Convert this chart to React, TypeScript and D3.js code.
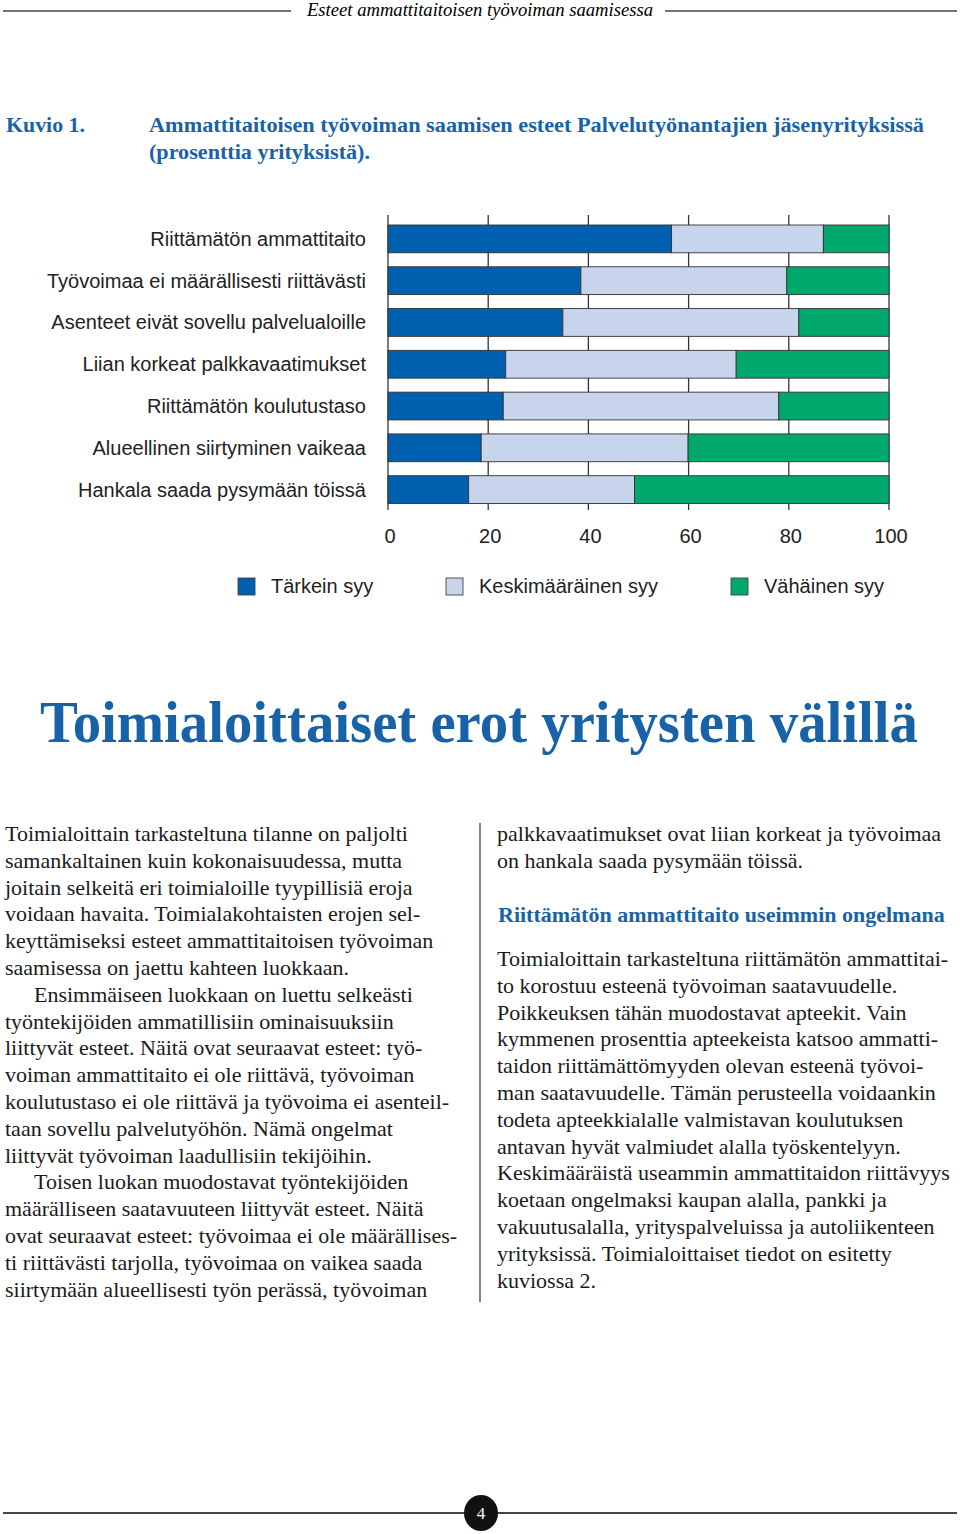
import React from "react";
import * as d3 from "d3";

const categories = [
  "Riittämätön ammattitaito",
  "Työvoimaa ei määrällisesti riittävästi",
  "Asenteet eivät sovellu palvelualoille",
  "Liian korkeat palkkavaatimukset",
  "Riittämätön koulutustaso",
  "Alueellinen siirtyminen vaikeaa",
  "Hankala saada pysymään töissä",
];
const tarkein = [56.6, 38.5, 34.9, 23.5, 23.0, 18.6, 16.1];
const keskimaarainen = [30.3, 41.1, 47.1, 46.0, 55.0, 41.3, 33.1];
const vahainen = [13.1, 20.4, 18.0, 30.5, 22.0, 40.1, 50.8];
const seriesNames = ["Tärkein syy", "Keskimääräinen syy", "Vähäinen syy"];
const seriesColors = ["#0060b0", "#c8d3ec", "#00a86b"];
const xTicks = [0, 20, 40, 60, 80, 100];

const headerText = "Esteet ammattitaitoisen työvoiman saamisessa";
const figLabel = "Kuvio 1.";
const figTitle1 = "Ammattitaitoisen työvoiman saamisen esteet Palvelutyönantajien jäsenyrityksissä";
const figTitle2 = "(prosenttia yrityksistä).";
const sectionHeading = "Toimialoittaiset erot yritysten välillä";
const subHeading = "Riittämätön ammattitaito useimmin ongelmana";
const pageNumber = "4";

const leftLines: [string, boolean][] = [
  ["Toimialoittain tarkasteltuna tilanne on paljolti", false],
  ["samankaltainen kuin kokonaisuudessa, mutta", false],
  ["joitain selkeitä eri toimialoille tyypillisiä eroja", false],
  ["voidaan havaita. Toimialakohtaisten erojen sel-", false],
  ["keyttämiseksi esteet ammattitaitoisen työvoiman", false],
  ["saamisessa on jaettu kahteen luokkaan.", false],
  ["Ensimmäiseen luokkaan on luettu selkeästi", true],
  ["työntekijöiden ammatillisiin ominaisuuksiin", false],
  ["liittyvät esteet. Näitä ovat seuraavat esteet: työ-", false],
  ["voiman ammattitaito ei ole riittävä, työvoiman", false],
  ["koulutustaso ei ole riittävä ja työvoima ei asenteil-", false],
  ["taan sovellu palvelutyöhön. Nämä ongelmat", false],
  ["liittyvät työvoiman laadullisiin tekijöihin.", false],
  ["Toisen luokan muodostavat työntekijöiden", true],
  ["määrälliseen saatavuuteen liittyvät esteet. Näitä", false],
  ["ovat seuraavat esteet: työvoimaa ei ole määrällises-", false],
  ["ti riittävästi tarjolla, työvoimaa on vaikea saada", false],
  ["siirtymään alueellisesti työn perässä, työvoiman", false],
];
const rightTopLines = [
  "palkkavaatimukset ovat liian korkeat ja työvoimaa",
  "on hankala saada pysymään töissä.",
];
const rightLines = [
  "Toimialoittain tarkasteltuna riittämätön ammattitai-",
  "to korostuu esteenä työvoiman saatavuudelle.",
  "Poikkeuksen tähän muodostavat apteekit. Vain",
  "kymmenen prosenttia apteekeista katsoo ammatti-",
  "taidon riittämättömyyden olevan esteenä työvoi-",
  "man saatavuudelle. Tämän perusteella voidaankin",
  "todeta apteekkialalle valmistavan koulutuksen",
  "antavan hyvät valmiudet alalla työskentelyyn.",
  "Keskimääräistä useammin ammattitaidon riittävyys",
  "koetaan ongelmaksi kaupan alalla, pankki ja",
  "vakuutusalalla, yrityspalveluissa ja autoliikenteen",
  "yrityksissä. Toimialoittaiset tiedot on esitetty",
  "kuviossa 2.",
];

const W = 960;
const H = 1534;
const BLUE_TEXT = "#1862a8";
const SERIF = "'Liberation Serif', 'Times New Roman', serif";
const SANS = "'Liberation Sans', Arial, sans-serif";

export default function App() {
  const x = d3.scaleLinear().domain([0, 100]).range([388, 889]);
  const y = d3
    .scaleBand<string>()
    .domain(categories)
    .range([225, 503.5])
    .paddingInner(0.335)
    .paddingOuter(0);

  const rows = categories.map((c, i) => ({
    cat: c,
    vals: [tarkein[i], keskimaarainen[i], vahainen[i]],
  }));
  const stack = d3
    .stack<{ cat: string; vals: number[] }, number>()
    .keys([0, 1, 2])
    .value((d, k) => d.vals[k]);
  const stacked = stack(rows);

  const lineH = 26.8;
  const bodySize = 22;

  const legendX = [238, 446, 731];

  return (
    <div style={{ position: "absolute", left: 0, top: 0 }}>
      <svg width={W} height={H} viewBox={`0 0 ${W} ${H}`} style={{ display: "block", background: "#fff" }}>
        {/* header */}
        <line x1={3} x2={291} y1={11} y2={11} stroke="#444" strokeWidth={1.6} />
        <line x1={665} x2={957} y1={11} y2={11} stroke="#444" strokeWidth={1.6} />
        <text
          x={307}
          y={16}
          fontFamily={SERIF}
          fontStyle="italic"
          fontSize={18}
          fill="#000"
          textLength={346}
          lengthAdjust="spacingAndGlyphs"
        >
          {headerText}
        </text>

        {/* figure title */}
        <g fontFamily={SERIF} fontWeight="bold" fontSize={22} fill={BLUE_TEXT}>
          <text x={6} y={132} textLength={79} lengthAdjust="spacingAndGlyphs">
            {figLabel}
          </text>
          <text x={149} y={132} textLength={775} lengthAdjust="spacingAndGlyphs">
            {figTitle1}
          </text>
          <text x={149} y={159} textLength={221} lengthAdjust="spacingAndGlyphs">
            {figTitle2}
          </text>
        </g>

        {/* gridlines */}
        {xTicks.map((t) => (
          <line key={t} x1={x(t)} x2={x(t)} y1={215} y2={510} stroke="#333" strokeWidth={1.3} />
        ))}

        {/* bars */}
        {stacked.map((s, si) => (
          <g key={si}>
            {s.map((d, i) => (
              <rect
                key={i}
                x={x(d[0])}
                y={y(categories[i])}
                width={x(d[1]) - x(d[0])}
                height={y.bandwidth()}
                fill={seriesColors[si]}
                stroke="#333"
                strokeWidth={0.9}
              />
            ))}
          </g>
        ))}

        {/* category labels */}
        <g fontFamily={SANS} fontSize={20} fill="#222" textAnchor="end">
          {categories.map((c) => (
            <text key={c} x={366} y={(y(c) as number) + y.bandwidth() / 2 + 7}>
              {c}
            </text>
          ))}
        </g>

        {/* x tick labels */}
        <g fontFamily={SANS} fontSize={20} fill="#222" textAnchor="middle">
          {xTicks.map((t) => (
            <text key={t} x={x(t) + 2} y={543}>
              {t}
            </text>
          ))}
        </g>

        {/* legend */}
        <g fontFamily={SANS} fontSize={20} fill="#222">
          {seriesNames.map((n, i) => (
            <g key={n}>
              <rect x={legendX[i]} y={578} width={17} height={17} fill={seriesColors[i]} stroke="#444" strokeWidth={0.9} />
              <text x={legendX[i] + 33} y={593}>
                {n}
              </text>
            </g>
          ))}
        </g>

        {/* section heading */}
        <g transform="translate(40,742) scale(1,1.25)">
          <text
            x={0}
            y={0}
            fontFamily={SERIF}
            fontWeight="bold"
            fontSize={48}
            fill={BLUE_TEXT}
            textLength={878}
            lengthAdjust="spacingAndGlyphs"
          >
            {sectionHeading}
          </text>
        </g>

        {/* left column */}
        <g fontFamily={SERIF} fontSize={bodySize} fill="#1a1a1a">
          {leftLines.map(([t, indent], i) => (
            <text key={i} x={indent ? 34 : 5} y={841 + i * lineH}>
              {t}
            </text>
          ))}
        </g>

        {/* divider */}
        <line x1={480} x2={480} y1={823} y2={1302} stroke="#444" strokeWidth={1.3} />

        {/* right column */}
        <g fontFamily={SERIF} fontSize={bodySize} fill="#1a1a1a">
          {rightTopLines.map((t, i) => (
            <text key={i} x={497} y={841 + i * lineH}>
              {t}
            </text>
          ))}
          {rightLines.map((t, i) => (
            <text key={"r" + i} x={497} y={966 + i * lineH}>
              {t}
            </text>
          ))}
        </g>
        <text x={498} y={922} fontFamily={SERIF} fontWeight="bold" fontSize={22} fill={BLUE_TEXT}>
          {subHeading}
        </text>

        {/* footer */}
        <line x1={3} x2={957} y1={1513} y2={1513} stroke="#444" strokeWidth={1.8} />
        <ellipse cx={481} cy={1513} rx={17} ry={18} fill="#111" />
        <text x={481} y={1519} fontFamily={SERIF} fontSize={17} fill="#fff" textAnchor="middle">
          {pageNumber}
        </text>
      </svg>
    </div>
  );
}
